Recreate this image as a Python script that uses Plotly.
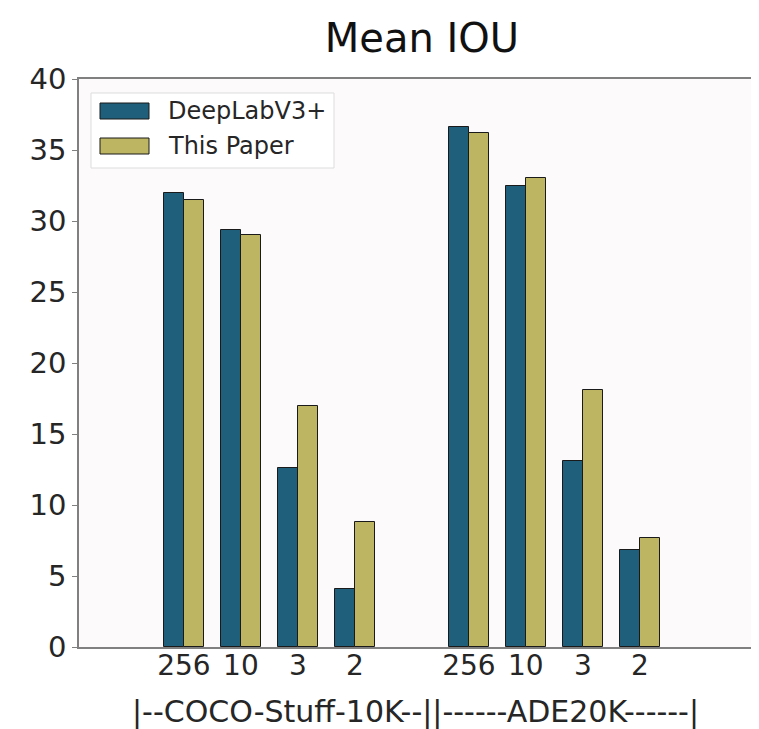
import plotly.graph_objects as go

datasets = ["COCO-Stuff-10K", "ADE20K"]
classes = ["256", "10", "3", "2"]
deeplab = [32.0, 29.4, 12.6, 4.1, 36.6, 32.5, 13.1, 6.8]
this_paper = [31.5, 29.0, 17.0, 8.8, 36.2, 33.0, 18.1, 7.7]
x_title = "|--COCO-Stuff-10K--||------ADE20K------|"

# group positions: each dataset block of 4, separated by one empty slot
pos = [g * (len(classes) + 1) + i for g in range(len(datasets)) for i in range(len(classes))]
labels = [c for _ in datasets for c in classes]

C_DL = "#1f5f7b"
C_TP = "#bdb561"
EDGE = "#1a1a1a"
W = 0.35
FONT = "DejaVu Sans"
TXT = "#262626"

# figure is placed 8px in from the window (body margin)
FW, FH = 751, 721
L, T, B = 71, 71, 82
PW, PH = FW - L, FH - T - B  # 680 x 568


def px(xr):  # reference window x -> paper
    return (xr - 8 - L) / PW


def py(yr):  # reference window y -> paper
    return (T + PH - (yr - 8)) / PH


fig = go.Figure()
fig.add_trace(go.Bar(x=pos, y=deeplab, width=W, offset=-W, name="DeepLabV3+",
                     marker=dict(color=C_DL, line=dict(color=EDGE, width=1)), showlegend=False))
fig.add_trace(go.Bar(x=pos, y=this_paper, width=W, offset=0, name="This Paper",
                     marker=dict(color=C_TP, line=dict(color=EDGE, width=1)), showlegend=False))

# manual legend (matplotlib-like)
fig.add_shape(type="rect", xref="paper", yref="paper", layer="above",
              x0=px(91), x1=px(334), y0=py(168), y1=py(93),
              line=dict(color="#dddddd", width=1), fillcolor="rgba(255,255,255,0.85)")
for k, (nm, col) in enumerate([("DeepLabV3+", C_DL), ("This Paper", C_TP)]):
    yc = 111 + k * 35
    fig.add_shape(type="rect", xref="paper", yref="paper", layer="above",
                  x0=px(100), x1=px(149), y0=py(yc + 8), y1=py(yc - 8),
                  line=dict(color=EDGE, width=1), fillcolor=col)
    fig.add_annotation(xref="paper", yref="paper", x=px(166), y=py(yc),
                       text=nm, showarrow=False, xanchor="left", yanchor="middle",
                       font=dict(family=FONT, size=24, color=TXT))

fig.add_annotation(xref="paper", yref="paper", x=px(415), y=py(712),
                   text=x_title, showarrow=False, xanchor="center", yanchor="middle",
                   font=dict(family=FONT, size=30, color=TXT))

fig.update_layout(
    width=FW, height=FH,
    margin=dict(l=L, r=0, t=T, b=B, autoexpand=False),
    paper_bgcolor="white", plot_bgcolor="#fcfafb",
    barmode="overlay", bargap=0,
    title=dict(text="Mean IOU", x=(422 - 8) / FW, xanchor="center", y=1 - (38 - 8) / FH,
               yanchor="middle", font=dict(family=FONT, size=40, color="#111111")),
    font=dict(family=FONT, color=TXT),
    xaxis=dict(range=[-1.84, 10.09], tickvals=pos, ticktext=labels, automargin=False,
               tickfont=dict(size=28, color=TXT), ticks="", ticklen=0, ticklabelstandoff=-7,
               showgrid=False, zeroline=False, showline=True, linecolor="#808080",
               linewidth=1.5, mirror=True),
    yaxis=dict(range=[0, 40], dtick=5, tickfont=dict(size=29, color=TXT), automargin=False,
               ticks="outside", ticklen=5, tickcolor="#808080", showgrid=False, zeroline=False,
               showline=True, linecolor="#808080", linewidth=1.5),
)
fig.write_html("out.html")
